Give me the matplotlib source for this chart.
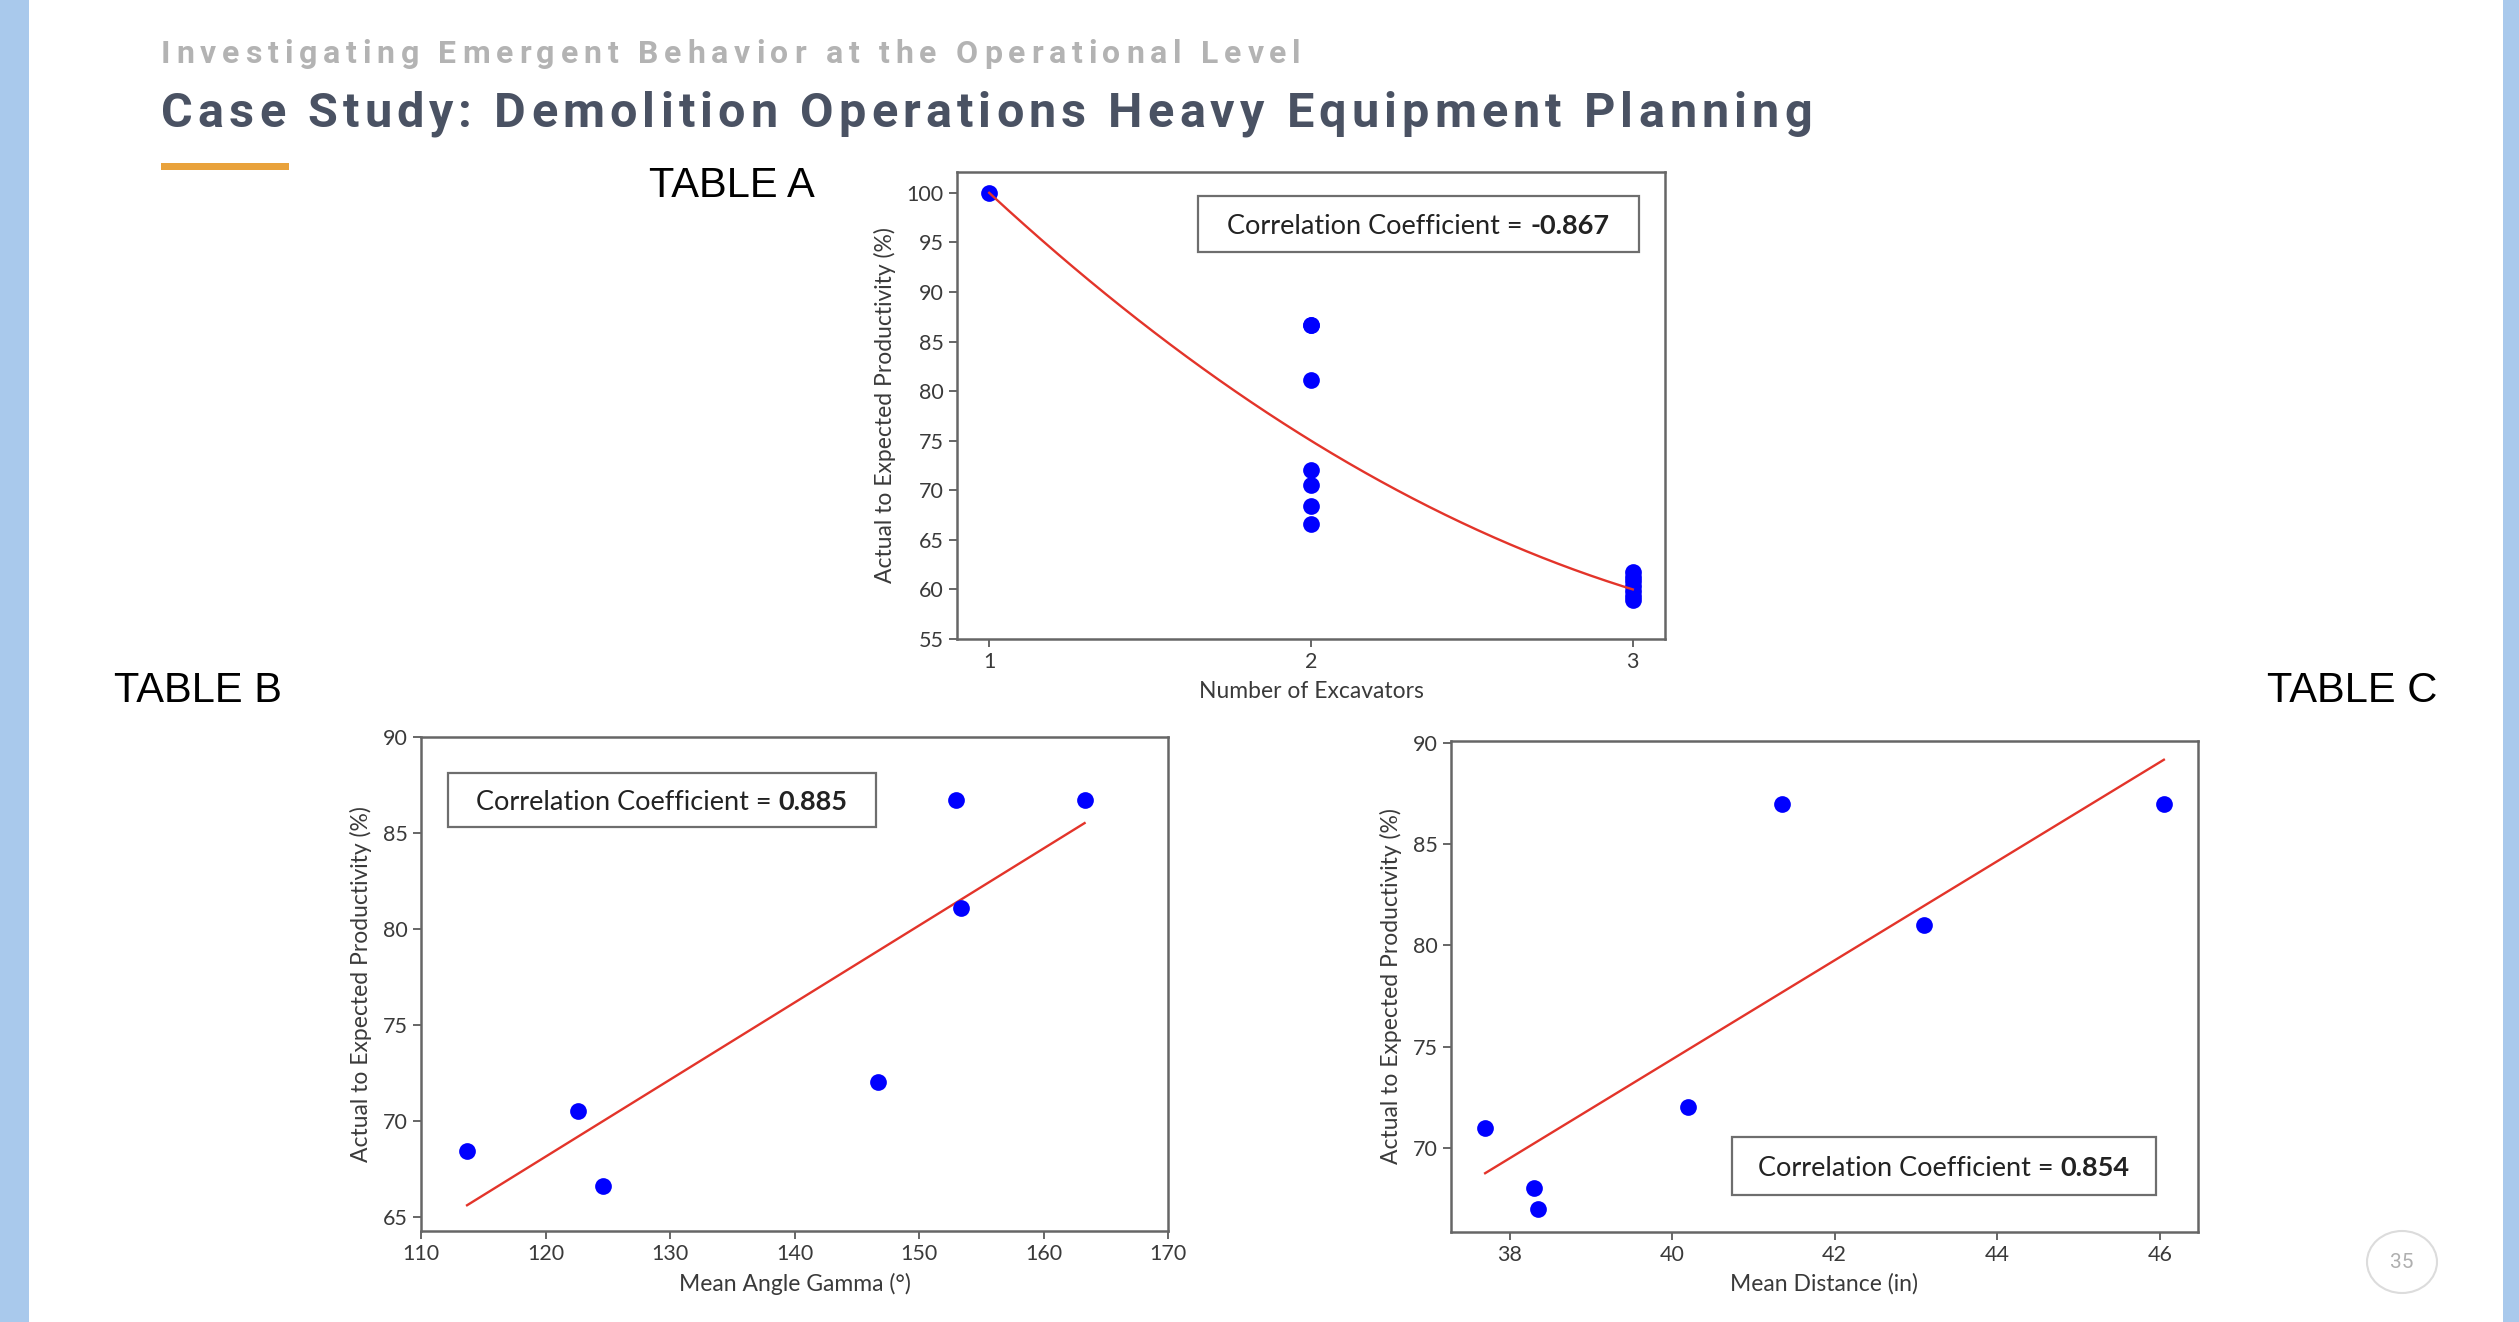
import numpy as np
import matplotlib
matplotlib.use("Agg")
import matplotlib.pyplot as plt
from matplotlib.patches import Rectangle, Ellipse

# ---------------- data ----------------
a_excavators = [1, 2, 2, 2, 2, 2, 2, 2, 3, 3, 3, 3, 3, 3, 3]
a_productivity = [100.0, 86.7, 86.7, 81.1, 72.0, 70.5, 68.4, 66.6,
                  61.8, 61.3, 60.8, 60.3, 59.8, 59.3, 58.9]
a_trend_coef = [5.0, -40.0, 135.0]          # fitted curve shown in Table A
a_corr = "-0.867"

b_gamma = [113.7, 122.6, 124.6, 146.7, 153.0, 153.4, 163.3]
b_productivity = [68.4, 70.5, 66.6, 72.0, 86.7, 81.1, 86.7]
b_corr = "0.885"

c_distance = [37.7, 38.3, 38.35, 40.2, 41.35, 43.1, 46.05]
c_productivity = [71.0, 68.0, 67.0, 72.0, 87.0, 81.0, 87.0]
c_corr = "0.854"

a_yticks = [55, 60, 65, 70, 75, 80, 85, 90, 95, 100]
a_xticks = [1, 2, 3]
b_xticks = [110, 120, 130, 140, 150, 160, 170]
b_yticks = [65, 70, 75, 80, 85, 90]
c_xticks = [38, 40, 42, 44, 46]
c_yticks = [70, 75, 80, 85, 90]

title_sub = "Investigating Emergent Behavior at the Operational Level"
title_main = "Case Study: Demolition Operations Heavy Equipment Planning"
ylabel = "Actual to Expected Productivity (%)"

# ---------------- figure ----------------
W, H = 2519, 1322
DPI = 100
fig = plt.figure(figsize=(W / DPI, H / DPI), dpi=DPI)
fig.patch.set_facecolor("white")
renderer = fig.canvas.get_renderer()


def fx(px):
    return px / W


def fy(py):
    return 1 - py / H


# side bars
bar_col = "#a9c9ec"
fig.patches.append(Rectangle((0, 0), fx(29), 1, transform=fig.transFigure,
                             facecolor=bar_col, edgecolor="none", zorder=0))
fig.patches.append(Rectangle((fx(2503), 0), fx(W - 2503), 1, transform=fig.transFigure,
                             facecolor=bar_col, edgecolor="none", zorder=0))


def tracked_text(s, x0_px, x1_px, yc_px, **kw):
    """Place a string with letter spacing so that it spans x0..x1 pixels."""
    tmp = fig.text(0, 0, s, **kw)
    total = tmp.get_window_extent(renderer).width
    tmp.remove()
    n = len(s)
    track = (x1_px - x0_px - total) / (n - 1)
    tb = fig.text(0, 0, "|", **kw)
    wbar = tb.get_window_extent(renderer).width
    tb.remove()
    for i, ch in enumerate(s):
        if i == 0:
            pre = 0.0
        else:
            t = fig.text(0, 0, s[:i] + "|", **kw)
            pre = t.get_window_extent(renderer).width - wbar
            t.remove()
        if ch == " ":
            continue
        fig.text(fx(x0_px + pre + i * track), fy(yc_px), ch, ha="left",
                 va="center_baseline", **kw)


tracked_text(title_sub, 161, 1301, 51, family="Roboto", fontweight="bold",
             fontsize=23, color="#b3b3b3")
tracked_text(title_main, 161, 1812, 109, family="Roboto", fontweight="bold",
             fontsize=35, color="#4a5263")

# orange accent line
fig.patches.append(Rectangle((fx(161), fy(170)), fx(128), 7 / H, transform=fig.transFigure,
                             facecolor="#e9a23b", edgecolor="none"))

# table labels
for lbl, x, y in [("TABLE A", 649, 186), ("TABLE B", 114, 691), ("TABLE C", 2267, 691)]:
    fig.text(fx(x), fy(y), lbl, family="Liberation Sans", fontsize=30,
             color="black", ha="left", va="center")

# page number
fig.patches.append(Ellipse((fx(2402), fy(1262)), 70 / W, 62 / H, transform=fig.transFigure,
                           facecolor="white", edgecolor="#dcdcdc", linewidth=1.5))
fig.text(fx(2402), fy(1262), "35", family="Roboto", fontsize=15, color="#b0b0b0",
         ha="center", va="center")

# ---------------- charts ----------------
FONT = "Lato"
TICK_FS = 15.5
LABEL_FS = 16.5
BOX_FS = 19.5
spine_col = "#666666"
text_col = "#3a3a3a"


def make_axes(l, t, r, b):
    ax = fig.add_axes([fx(l), fy(b), (r - l) / W, (b - t) / H])
    for sp in ax.spines.values():
        sp.set_color(spine_col)
        sp.set_linewidth(1.8)
    ax.tick_params(labelsize=TICK_FS, colors=spine_col, labelcolor=text_col,
                   length=6, width=1.4)
    return ax


def style_ticks(ax):
    for lab in ax.get_xticklabels() + ax.get_yticklabels():
        lab.set_family(FONT)
        lab.set_fontsize(TICK_FS)
        lab.set_color(text_col)


def corr_box(ax, x0, y0, x1, y1, value):
    ax.add_patch(Rectangle((x0, y0), x1 - x0, y1 - y0, transform=ax.transAxes,
                           facecolor="white", edgecolor="#6e6e6e", linewidth=1.6, zorder=5))
    kw = dict(family=FONT, fontsize=BOX_FS, color="#222222", va="center_baseline",
              transform=ax.transAxes, zorder=6, ha="left")
    t1 = ax.text(0, 0, "Correlation Coefficient =", **kw)
    t2 = ax.text(0, 0, value, fontweight="bold", **kw)
    w1 = t1.get_window_extent(renderer).width
    w2 = t2.get_window_extent(renderer).width
    gap = 0.27 * BOX_FS * DPI / 72
    cx, cy = ax.transAxes.transform(((x0 + x1) / 2, (y0 + y1) / 2))
    start = cx - (w1 + gap + w2) / 2
    inv = ax.transAxes.inverted()
    t1.set_position(inv.transform((start, cy)))
    t2.set_position(inv.transform((start + w1 + gap, cy)))


DOT_S = 145
DOT_C = "#0000ff"
LINE_C = "#e3342a"

# Table A
axA = make_axes(957, 172, 1665, 639)
axA.scatter(a_excavators, a_productivity, s=DOT_S, color=DOT_C, zorder=3, linewidths=0)
xa = np.linspace(min(a_excavators), max(a_excavators), 200)
axA.plot(xa, np.polyval(a_trend_coef, xa), color=LINE_C, linewidth=1.7, zorder=4)
axA.set_xlim(0.9, 3.1)
axA.set_ylim(55, 102.1)
axA.set_xticks(a_xticks)
axA.set_yticks(a_yticks)
style_ticks(axA)
axA.set_xlabel("Number of Excavators", family=FONT, fontsize=LABEL_FS, color=text_col, labelpad=6)
axA.set_ylabel(ylabel, family=FONT, fontsize=LABEL_FS, color=text_col, labelpad=8)
corr_box(axA, 0.34, 0.829, 0.963, 0.949, a_corr)

# Table B
axB = make_axes(421, 737, 1168, 1231)
axB.scatter(b_gamma, b_productivity, s=DOT_S, color=DOT_C, zorder=3, linewidths=0)
cb = np.polyfit(b_gamma, b_productivity, 1)
xb = np.array([min(b_gamma), max(b_gamma)])
axB.plot(xb, np.polyval(cb, xb), color=LINE_C, linewidth=1.7, zorder=2)
axB.set_xlim(110, 170)
axB.set_ylim(64.25, 90)
axB.set_xticks(b_xticks)
axB.set_yticks(b_yticks)
style_ticks(axB)
axB.set_xlabel("Mean Angle Gamma (°)", family=FONT, fontsize=LABEL_FS, color=text_col, labelpad=6)
axB.set_ylabel(ylabel, family=FONT, fontsize=LABEL_FS, color=text_col, labelpad=8)
corr_box(axB, 0.036, 0.818, 0.609, 0.927, b_corr)

# Table C
axC = make_axes(1451, 741, 2198, 1232)
axC.scatter(c_distance, c_productivity, s=DOT_S, color=DOT_C, zorder=3, linewidths=0)
cc = np.polyfit(c_distance, c_productivity, 1)
xc = np.array([min(c_distance), max(c_distance)])
axC.plot(xc, np.polyval(cc, xc), color=LINE_C, linewidth=1.7, zorder=2)
axC.set_xticks(c_xticks)
axC.set_yticks(c_yticks)
axC.set_ylim(65.85, 90.1)
axC.set_xlim(37.28, 46.47)
style_ticks(axC)
axC.set_xlabel("Mean Distance (in)", family=FONT, fontsize=LABEL_FS, color=text_col, labelpad=6)
axC.set_ylabel(ylabel, family=FONT, fontsize=LABEL_FS, color=text_col, labelpad=8)
corr_box(axC, 0.376, 0.075, 0.944, 0.193, c_corr)

fig.savefig("out.png", dpi=DPI, facecolor="white")
